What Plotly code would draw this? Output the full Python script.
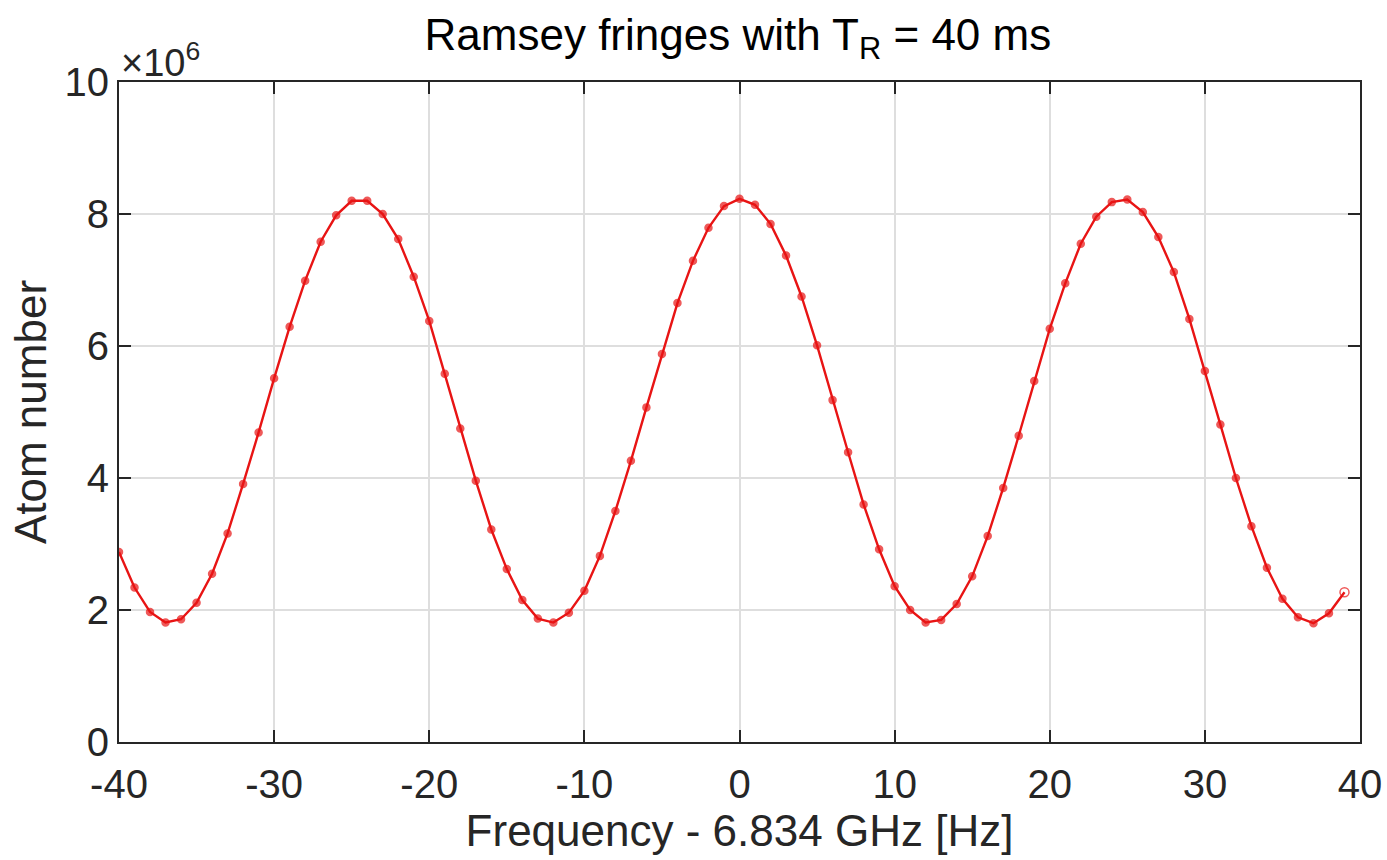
import plotly.graph_objects as go

# Frequency detuning [Hz]
freq_hz = list(range(-40, 40))

# Atom number in units of 1e6
atoms_1e6 = [
    2.88, 2.34, 1.97, 1.81, 1.86, 2.11, 2.55, 3.16, 3.91, 4.69,
    5.51, 6.29, 6.99, 7.58, 7.98, 8.20, 8.20, 8.00, 7.62, 7.05,
    6.38, 5.58, 4.75, 3.96, 3.22, 2.62, 2.15, 1.87, 1.81, 1.96,
    2.29, 2.82, 3.50, 4.26, 5.07, 5.88, 6.65, 7.29, 7.79, 8.12,
    8.23, 8.14, 7.85, 7.37, 6.75, 6.01, 5.18, 4.39, 3.60, 2.92,
    2.36, 2.00, 1.81, 1.85, 2.09, 2.51, 3.12, 3.85, 4.64, 5.47,
    6.26, 6.95, 7.55, 7.96, 8.18, 8.22, 8.03, 7.65, 7.12, 6.41,
    5.62, 4.81, 4.00, 3.27, 2.64, 2.17, 1.89, 1.80, 1.95, 2.27,
]

x_ticks = [-40, -30, -20, -10, 0, 10, 20, 30, 40]
y_ticks = [0, 2, 4, 6, 8, 10]

RED = "#e81414"
AX = "#262626"
FONT = "Liberation Sans, Arial, Helvetica, sans-serif"

symbols = ["circle"] * (len(freq_hz) - 1) + ["circle-open"]
sizes = [7] * (len(freq_hz) - 1) + [9]

fig = go.Figure()
fig.add_trace(go.Scatter(
    x=freq_hz, y=atoms_1e6, mode="lines+markers",
    line=dict(color=RED, width=2.4),
    marker=dict(color=RED, size=sizes, symbol=symbols, line=dict(color=RED, width=1.5)),
    showlegend=False,
))

fig.update_layout(
    width=1387, height=860,
    margin=dict(l=119, r=27, t=82, b=118),
    paper_bgcolor="white", plot_bgcolor="white",
    font=dict(family=FONT, color=AX, size=40),
    title=dict(text="Ramsey fringes with T<sub>R</sub> = 40 ms", x=0.532, xanchor="center",
               y=0.96, yanchor="middle", font=dict(size=44, color="black")),
)
fig.update_xaxes(
    range=[-40, 40], tickvals=x_ticks, ticktext=[str(v) for v in x_ticks],
    showline=True, linecolor=AX, linewidth=2, mirror="allticks",
    ticks="inside", ticklen=12, tickwidth=2, tickcolor=AX,
    showgrid=True, gridcolor="#dedede", gridwidth=1.5, zeroline=False,
    tickfont=dict(size=40, color=AX), ticklabelstandoff=6, automargin=False,
    title=dict(text="Frequency - 6.834 GHz [Hz]", font=dict(size=44, color=AX), standoff=4),
)
fig.update_yaxes(
    range=[0, 10], tickvals=y_ticks, ticktext=[str(v) for v in y_ticks],
    showline=True, linecolor=AX, linewidth=2, mirror="allticks",
    ticks="inside", ticklen=12, tickwidth=2, tickcolor=AX,
    showgrid=True, gridcolor="#dedede", gridwidth=1.5, zeroline=False,
    tickfont=dict(size=40, color=AX), automargin=False,
    title=dict(text="Atom number", font=dict(size=44, color=AX), standoff=4),
)
fig.add_annotation(
    text="\u00d710<sup>6</sup>", xref="paper", yref="paper", x=0.0, y=1.0,
    xanchor="left", yanchor="bottom", showarrow=False, yshift=-4,
    font=dict(size=38, color=AX),
)

fig.write_html("out.html")
